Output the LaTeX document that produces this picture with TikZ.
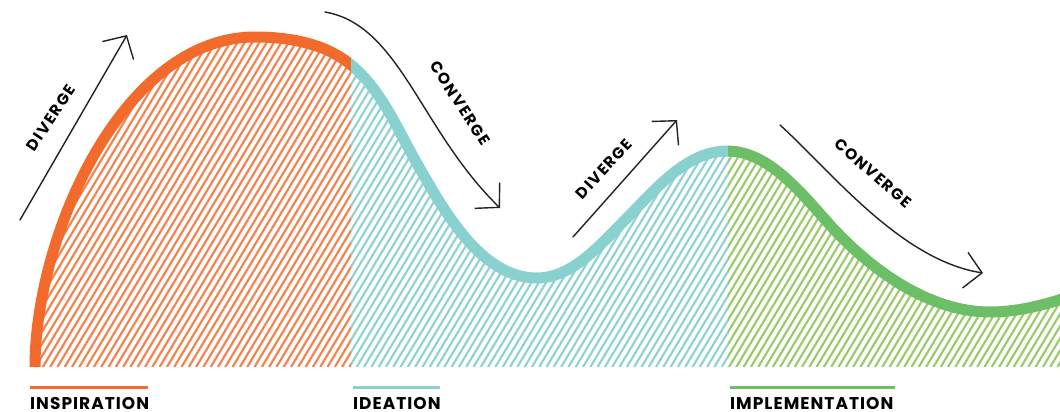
\documentclass[tikz,border=0pt]{standalone}
\usepackage{fontspec}
\setsansfont{Poppins}
\newfontfamily\tagfont{Poppins}[LetterSpace=10]
\newfontfamily\phasefont{Poppins}[LetterSpace=6]
\usetikzlibrary{arrows.meta}

\definecolor{insporange}{HTML}{F26A2C}
\definecolor{ideateal}{HTML}{88D1CE}
\definecolor{implgreen}{HTML}{6CBF66}
\definecolor{insphatch}{HTML}{F4844F}
\definecolor{ideahatch}{HTML}{8FD4D1}
\definecolor{implhatch}{HTML}{9CCB6A}
\definecolor{inkblack}{HTML}{222222}

% the wave, in pixel units (y pointing down)
\newcommand{\wavepath}{(35,367) .. controls (35,235) and (123,37) .. (255,37)
  .. controls (288,37) and (324,43) .. (350,64)
  .. controls (380,88) and (396,126) .. (415,160)
  .. controls (443,209) and (480,278) .. (537,278)
  .. controls (572,278) and (600,245) .. (625,220)
  .. controls (654,191) and (686,151) .. (727,151)
  .. controls (769,151) and (802,194) .. (830,225)
  .. controls (871,270) and (929,312) .. (990,312)
  .. controls (1015,312) and (1041,306) .. (1065,298)}

\begin{document}
\begin{tikzpicture}[x=1pt, y=-1pt,
  wave/.style={line width=11pt},
  hatch/.style={line width=2.2pt},
  arrow/.style={inkblack, line width=1.4pt, line cap=round, line join=round,
    -{Straight Barb[length=17pt, width=36pt]}},
  tag/.style={inner sep=0pt, font=\tagfont\bfseries\fontsize{15.5}{15.5}\selectfont},
  phase/.style={inner sep=0pt, anchor=base west, font=\phasefont\bfseries\fontsize{17}{17}\selectfont}]
	\useasboundingbox (0,0) rectangle (1060,412);

	% hatched area under the wave
	\begin{scope}
		\clip \wavepath -- (1065,367) -- cycle;
		\begin{scope}
			\clip (0,0) rectangle (351,412);
			\foreach \hx in {-220,-212.7,...,1060}
				\draw[hatch, insphatch] (\hx,367) -- ++(204,-340);
		\end{scope}
		\begin{scope}
			\clip (351,0) rectangle (728,412);
			\foreach \hx in {-220,-212.7,...,1060}
				\draw[hatch, ideahatch] (\hx,367) -- ++(204,-340);
		\end{scope}
		\begin{scope}
			\clip (728,0) rectangle (1070,412);
			\foreach \hx in {-220,-212.7,...,1060}
				\draw[hatch, implhatch] (\hx,367) -- ++(204,-340);
		\end{scope}
	\end{scope}

	% the wave itself
	\begin{scope}
		\clip (0,0) rectangle (351,412);
		\draw[wave, insporange] \wavepath;
	\end{scope}
	\begin{scope}
		\clip (351,0) rectangle (728,412);
		\draw[wave, ideateal] \wavepath;
	\end{scope}
	\begin{scope}
		\clip (728,0) rectangle (1070,412);
		\draw[wave, implgreen] \wavepath;
	\end{scope}

	% arrows
	\coordinate (div1-s) at (20,220);
	\coordinate (div1-e) at (127,35);
	\coordinate (conv1-s) at (325,12);
	\coordinate (conv1-e) at (500,208);
	\coordinate (div2-s) at (573,237);
	\coordinate (div2-e) at (677,120);
	\coordinate (conv2-s) at (780,125);
	\coordinate (conv2-e) at (983,273);

	\draw[arrow] (div1-s) -- (div1-e);
	\draw[arrow] (conv1-s) .. controls (400,25) and (420,130) .. (conv1-e);
	\draw[arrow] (div2-s) -- (div2-e);
	\draw[arrow] (conv2-s) .. controls (830,170) and (900,260) .. (conv2-e);

	\node[tag, rotate=56] (div1) at (51,118) {DIVERGE};
	\node[tag, rotate=-57] (conv1) at (460,103) {CONVERGE};
	\node[tag, rotate=47] (div2) at (604,169) {DIVERGE};
	\node[tag, rotate=-41] (conv2) at (873,173) {CONVERGE};

	% phases
	\node[phase] (insp) at (30,409) {INSPIRATION};
	\node[phase] (idea) at (353,409) {IDEATION};
	\node[phase] (impl) at (730,409) {IMPLEMENTATION};

	\coordinate (insp-l) at (30,387);
	\coordinate (insp-r) at (148,387);
	\coordinate (idea-l) at (353,387);
	\coordinate (idea-r) at (440,387);
	\coordinate (impl-l) at (730,387);
	\coordinate (impl-r) at (895,387);
	\draw[line width=3pt, insporange] (insp-l) -- (insp-r);
	\draw[line width=3pt, ideateal] (idea-l) -- (idea-r);
	\draw[line width=3pt, implgreen] (impl-l) -- (impl-r);
\end{tikzpicture}
\end{document}
